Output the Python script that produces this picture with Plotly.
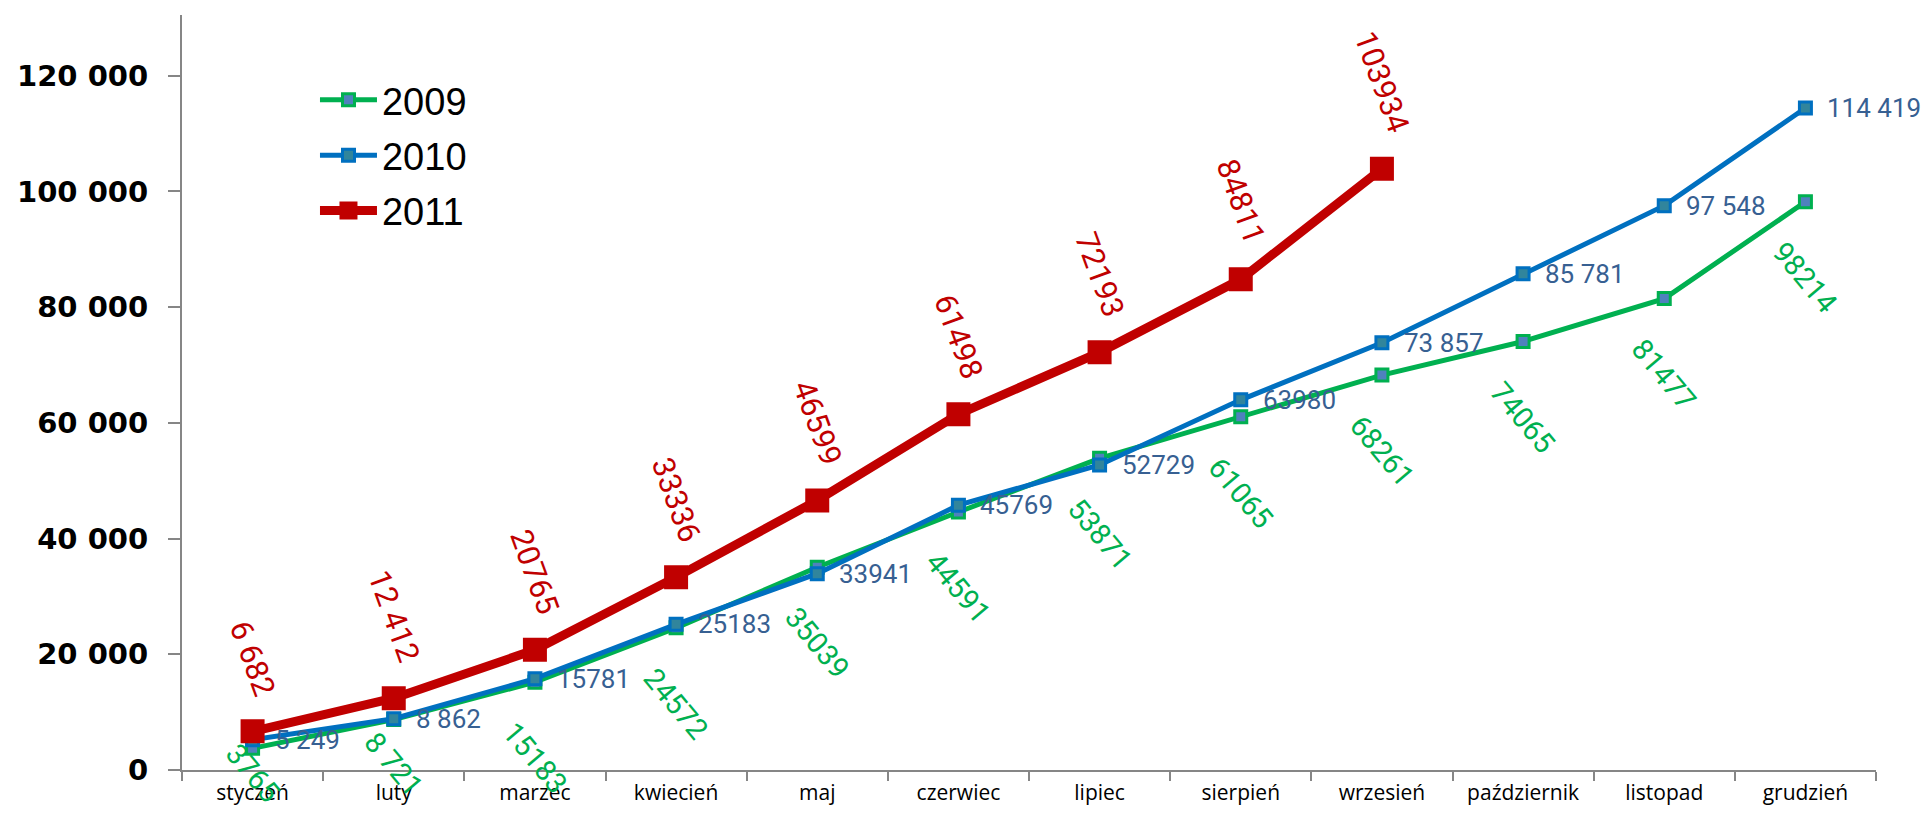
import math
import plotly.graph_objects as go

months = ["styczeń", "luty", "marzec", "kwiecień", "maj", "czerwiec", "lipiec",
          "sierpień", "wrzesień", "październik", "listopad", "grudzień"]

v2009 = [3765, 8721, 15183, 24572, 35039, 44591, 53871, 61065, 68261, 74065, 81477, 98214]
v2010 = [5249, 8862, 15781, 25183, 33941, 45769, 52729, 63980, 73857, 85781, 97548, 114419]
v2011 = [6682, 12412, 20765, 33336, 46599, 61498, 72193, 84811, 103934]

lab2009 = ["3765", "8 721", "15183", "24572", "35039", "44591", "53871", "61065",
           "68261", "74065", "81477", "98214"]
lab2010 = ["5 249", "8 862", "15781", "25183", "33941", "45769", "52729", "63980",
           "73 857", "85 781", "97 548", "114 419"]
lab2011 = ["6 682", "12 412", "20765", "33336", "46599", "61498", "72193", "84811", "103934"]

yticks = [0, 20000, 40000, 60000, 80000, 100000, 120000]

GREEN = "#00B050"
BLUE = "#0070C0"
RED = "#C00000"
BLUE_TXT = "#376092"

W, H = 1926, 819
ML, MR, MT, MB = 182, 50, 15, 49
YMAX = 130500
plot_h = H - MT - MB

fig = go.Figure()

fig.add_trace(go.Scatter(
    x=months, y=v2009, name="2009", mode="lines+markers", legendgroup="a",
    line=dict(color=GREEN, width=5),
    marker=dict(symbol="square", size=12, color="#4F81BD", line=dict(color=GREEN, width=3)),
))
fig.add_trace(go.Scatter(
    x=months, y=v2010, name="2010", mode="lines+markers", legendgroup="b",
    line=dict(color=BLUE, width=5),
    marker=dict(symbol="square", size=12, color="#31859C", line=dict(color=BLUE, width=3)),
))
fig.add_trace(go.Scatter(
    x=months[:len(v2011)], y=v2011, name="2011", mode="lines+markers", legendgroup="c",
    line=dict(color=RED, width=9),
    marker=dict(symbol="square", size=22, color=RED, line=dict(color=RED, width=2)),
))

annotations = []
G_SIZE, G_ANGLE = 29, 50
bottom_limit = H - 14
for m, v, t in zip(months, v2009, lab2009):
    # keep rotated label inside the picture (push it up near the axis)
    mpx = MT + plot_h * (1 - v / YMAX)
    th = math.radians(G_ANGLE)
    est_h = len(t) * 0.56 * G_SIZE * math.sin(th) + G_SIZE * 1.1 * math.cos(th)
    top = mpx + 31
    if top + est_h > bottom_limit:
        top = bottom_limit - est_h
    annotations.append(dict(x=m, y=v, text=t, showarrow=False, textangle=G_ANGLE,
                            xanchor="center", yanchor="top", yshift=-(top - mpx),
                            font=dict(family="Roboto", size=G_SIZE, color=GREEN)))
for m, v, t in zip(months, v2010, lab2010):
    annotations.append(dict(x=m, y=v, text=t, showarrow=False, textangle=0,
                            xanchor="left", yanchor="middle", xshift=20,
                            font=dict(family="Roboto", size=26, color=BLUE_TXT)))
for m, v, t in zip(months, v2011, lab2011):
    annotations.append(dict(x=m, y=v, text=t, showarrow=False, textangle=70,
                            xanchor="center", yanchor="bottom", yshift=28,
                            font=dict(family="Roboto", size=31, color=RED)))

fig.update_layout(
    width=W, height=H,
    margin=dict(l=ML, r=MR, t=MT, b=MB),
    paper_bgcolor="white", plot_bgcolor="white",
    separators=", ",
    showlegend=True,
    hovermode=False,
    legend=dict(x=0.0785, y=0.929, xanchor="left", yanchor="top",
                font=dict(family="Liberation Sans", size=38, color="black"),
                itemwidth=57, tracegroupgap=3, bgcolor="rgba(0,0,0,0)",
                traceorder="grouped"),
    annotations=annotations,
    xaxis=dict(
        type="category", categoryorder="array", categoryarray=months,
        range=[-0.5, 11.5], showgrid=False, zeroline=False, automargin=False,
        showline=True, linecolor="#868686", linewidth=2,
        ticks="outside", tickson="boundaries", ticklen=9, tickcolor="#868686", tickwidth=2,
        tickfont=dict(family="Open Sans", size=21, color="black"),
        ticklabelstandoff=3,
    ),
    yaxis=dict(
        range=[0, YMAX], tickvals=yticks, tickformat=",d",
        showgrid=False, zeroline=False, automargin=False,
        showline=True, linecolor="#868686", linewidth=2,
        ticks="outside", ticklen=12, tickcolor="#868686", tickwidth=2,
        tickfont=dict(family="DejaVu Sans", size=29, color="black", weight="bold"),
        ticklabelstandoff=14,
    ),
)

fig.write_html("out.html", config={"displayModeBar": False},
               post_script="document.body.style.margin='0px';")
